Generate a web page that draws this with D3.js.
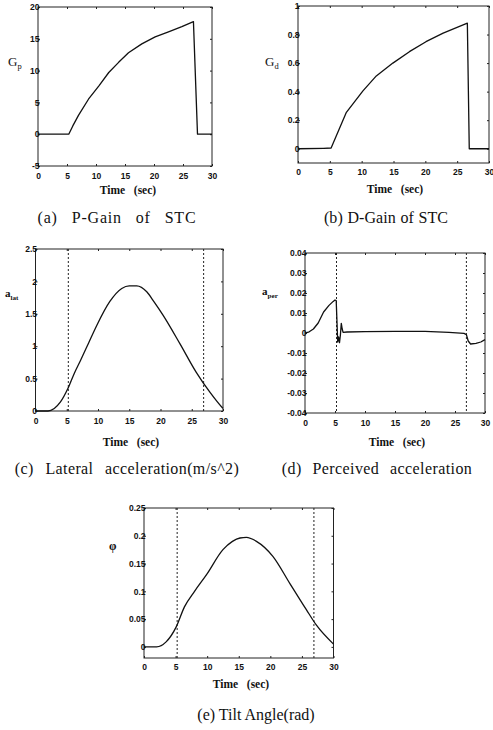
<!DOCTYPE html>
<html><head><meta charset="utf-8">
<script src="https://cdn.jsdelivr.net/npm/d3@7"></script>
<style>body{margin:0;background:#fff} svg{display:block}</style>
</head><body>
<svg id="chart" width="493" height="730"></svg>
<script>
// ---------- data ----------
const xTicks = [0, 5, 10, 15, 20, 25, 30];
const xTickLabels = ["0", "5", "10", "15", "20", "25", "30"];
const eventTimes = [5.25, 26.9];

const timeA = [0, 5.3, 6, 7, 8.7, 10.5, 12.2, 13.9, 15.6, 17.9, 20.2, 22.5, 24.8, 26.8, 27.5, 30];
const gainP = [0, 0, 1.3, 3.0, 5.5, 7.6, 9.7, 11.3, 12.8, 14.2, 15.3, 16.1, 16.9, 17.7, 0, 0];
const yTicksA = [-5, 0, 5, 10, 15, 20];
const yLabelsA = ["-5", "0", "5", "10", "15", "20"];

const timeB = [0, 4, 5.2, 7.6, 10.2, 12.3, 14.9, 17.5, 20.1, 22.8, 26.6, 26.9, 30];
const gainD = [0, 0.003, 0.005, 0.255, 0.405, 0.51, 0.60, 0.68, 0.75, 0.81, 0.88, 0, 0];
const yTicksB = [0, 0.2, 0.4, 0.6, 0.8, 1];
const yLabelsB = ["0", "0.2", "0.4", "0.6", "0.8", "1"];

const timeC = [0, 2, 3, 4, 5.2, 6.2, 7.2, 8.5, 9.8, 11.9, 13.8, 15, 16.2, 17.8, 19, 20.4, 23.1, 25.7, 27.9, 29.9, 30];
const latAcc = [0, 0, 0.04, 0.14, 0.35, 0.58, 0.78, 1.05, 1.32, 1.69, 1.89, 1.93, 1.93, 1.84, 1.68, 1.48, 1.04, 0.60, 0.29, 0.05, 0.04];
const yTicksC = [0, 0.5, 1, 1.5, 2, 2.5];
const yLabelsC = ["0", "0.5", "1", "1.5", "2", "2.5"];

const timeD = [0, 0.7, 1.4, 2.2, 3.1, 4.0, 4.7, 5.0, 5.2, 5.35, 5.45, 5.6, 5.75, 5.9, 6.05, 6.2, 6.35, 7, 10, 15, 20, 24, 26.5, 26.9, 27.2, 27.6, 28.5, 29.3, 30];
const perAcc = [0, 0.0006, 0.002, 0.005, 0.0105, 0.0138, 0.0158, 0.0165, 0.0162, 0.004, -0.0045, -0.002, -0.0048, -0.001, 0.0048, 0.002, 0.0003, 0.0005, 0.0007, 0.0008, 0.0008, 0.0003, -0.0002, -0.0008, -0.004, -0.0055, -0.0052, -0.0045, -0.0033];
const yTicksD = [-0.04, -0.03, -0.02, -0.01, 0, 0.01, 0.02, 0.03, 0.04];
const yLabelsD = ["-0.04", "-0.03", "-0.02", "-0.01", "0", "0.01", "0.02", "0.03", "0.04"];

const timeE = [0, 2, 3.5, 5.1, 6.4, 8, 9.9, 12.5, 14, 15.2, 16.2, 17.8, 20.4, 23.1, 25.7, 27.3, 30];
const tiltAng = [0, 0, 0.009, 0.036, 0.072, 0.10, 0.13, 0.175, 0.19, 0.196, 0.197, 0.19, 0.163, 0.114, 0.067, 0.039, 0.005];
const yTicksE = [0, 0.05, 0.1, 0.15, 0.2, 0.25];
const yLabelsE = ["0", "0.05", "0.1", "0.15", "0.2", "0.25"];

const captions = ["(a) P-Gain of STC", "(b) D-Gain of STC", "(c) Lateral acceleration(m/s^2)", "(d) Perceived acceleration", "(e) Tilt Angle(rad)"];

// ---------- drawing ----------
const svg = d3.select("#chart");
const tickFont = "'Liberation Sans', Arial, sans-serif";
const serif = "'Liberation Serif', 'Times New Roman', serif";

function panel(p) {
  const x = d3.scaleLinear().domain([0, 30]).range([p.x0, p.x1]);
  const y = d3.scaleLinear().domain(p.yDom).range([p.y1, p.y0]);
  const g = svg.append("g");

  g.append("rect").attr("x", p.x0).attr("y", p.y0)
    .attr("width", p.x1 - p.x0).attr("height", p.y1 - p.y0)
    .attr("fill", "none").attr("stroke", "#222").attr("stroke-width", 1);

  const styleAxis = (sel, showLabels) => {
    sel.select(".domain").remove();
    sel.selectAll(".tick line").attr("stroke", "#222");
    sel.selectAll(".tick text")
      .attr("font-family", tickFont).attr("font-size", 8.5).attr("font-weight", "bold")
      .attr("fill", "#111");
    if (!showLabels) sel.selectAll(".tick text").remove();
  };

  g.append("g").attr("transform", `translate(0,${p.y1})`)
    .call(d3.axisBottom(x).tickValues(xTicks).tickSize(-2).tickPadding(p.xPad)
      .tickFormat((d, i) => xTickLabels[i]))
    .call(s => styleAxis(s, true));
  g.append("g").attr("transform", `translate(0,${p.y0})`)
    .call(d3.axisTop(x).tickValues(xTicks).tickSize(-2))
    .call(s => styleAxis(s, false));
  g.append("g").attr("transform", `translate(${p.x0},0)`)
    .call(d3.axisLeft(y).tickValues(p.yTicks).tickSize(-2).tickPadding(-1.5)
      .tickFormat((d, i) => p.yLabels[i]))
    .call(s => styleAxis(s, true));
  g.append("g").attr("transform", `translate(${p.x1},0)`)
    .call(d3.axisRight(y).tickValues(p.yTicks).tickSize(-2))
    .call(s => styleAxis(s, false));

  if (p.events) {
    g.selectAll(".ev").data(eventTimes).join("line")
      .attr("x1", d => x(d)).attr("x2", d => x(d))
      .attr("y1", p.y0).attr("y2", p.y1)
      .attr("stroke", "#222").attr("stroke-width", 1)
      .attr("stroke-dasharray", "2,2");
  }

  const pts = p.t.map((t, i) => [t, p.v[i]]);
  g.append("path").datum(pts)
    .attr("d", d3.line().x(d => x(d[0])).y(d => y(d[1])).curve(p.curve))
    .attr("fill", "none").attr("stroke", "#111").attr("stroke-width", 1.3)
    .attr("stroke-linejoin", "round");

  g.append("text").attr("x", p.xlX).attr("y", p.xlY)
    .attr("text-anchor", "middle").attr("font-family", serif)
    .attr("font-size", 11.5).attr("font-weight", "bold").attr("fill", "#111")
    .attr("xml:space", "preserve")
    .text("Time   (sec)");

  const yl = g.append("text").attr("x", p.ylX).attr("y", p.ylY)
    .attr("font-family", serif).attr("font-size", p.ylSize).attr("fill", "#111")
    .attr("font-weight", p.ylBold ? "bold" : "normal");
  yl.append("tspan").text(p.ylMain);
  if (p.ylSub) yl.append("tspan").attr("font-size", p.ylSize * 0.65).attr("dy", 3).text(p.ylSub);

  // caption: fill the measured width, part by letter spacing, part by word gaps
  const cap = g.append("text").attr("x", p.capX).attr("y", p.capY)
    .attr("text-anchor", "middle").attr("font-family", serif)
    .attr("font-size", 16).attr("fill", "#111")
    .text(p.caption);
  const natural = cap.node().getComputedTextLength();
  const gaps = (p.caption.match(/ /g) || []).length;
  const chars = p.caption.length - 1;
  const extra = Math.max(0, p.capW - natural);
  const ls = Math.min(0.8, extra * 0.45 / chars);
  const ws = (extra - ls * chars) / gaps;
  cap.style("letter-spacing", ls + "px").style("word-spacing", ws + "px");
}

panel({x0: 38, x1: 212, y0: 7, y1: 166, yDom: [-5, 20], yTicks: yTicksA, yLabels: yLabelsA,
  t: timeA, v: gainP, events: false, xPad: 6.5, curve: d3.curveLinear,
  xlX: 128, xlY: 194, ylX: 8, ylY: 66, ylSize: 13, ylMain: "G", ylSub: "p",
  capX: 117, capY: 223, capW: 158, caption: captions[0]});

panel({x0: 298, x1: 489, y0: 6, y1: 163, yDom: [-0.1, 1], yTicks: yTicksB, yLabels: yLabelsB,
  t: timeB, v: gainD, events: false, xPad: 6, curve: d3.curveLinear,
  xlX: 395, xlY: 193, ylX: 265, ylY: 66, ylSize: 13, ylMain: "G", ylSub: "d",
  capX: 386, capY: 223, capW: 124, caption: captions[1]});

panel({x0: 35.5, x1: 223, y0: 249, y1: 411, yDom: [0, 2.5], yTicks: yTicksC, yLabels: yLabelsC,
  t: timeC, v: latAcc, events: true, xPad: 6.5, curve: d3.curveMonotoneX,
  xlX: 131, xlY: 446, ylX: 5, ylY: 297, ylSize: 11, ylBold: true, ylMain: "a", ylSub: "lat",
  capX: 127, capY: 474, capW: 224, caption: captions[2]});

panel({x0: 305, x1: 485, y0: 253, y1: 413, yDom: [-0.04, 0.04], yTicks: yTicksD, yLabels: yLabelsD,
  t: timeD, v: perAcc, events: true, xPad: 6.5, curve: d3.curveLinear,
  xlX: 397, xlY: 446, ylX: 262, ylY: 295, ylSize: 11, ylBold: true, ylMain: "a", ylSub: "per",
  capX: 377, capY: 474, capW: 190, caption: captions[3]});

panel({x0: 144, x1: 333.5, y0: 508, y1: 658, yDom: [-0.02, 0.25], yTicks: yTicksE, yLabels: yLabelsE,
  t: timeE, v: tiltAng, events: true, xPad: 5.5, curve: d3.curveMonotoneX,
  xlX: 241, xlY: 688, ylX: 109, ylY: 550, ylSize: 12, ylBold: true, ylMain: "φ", ylSub: null,
  capX: 256, capY: 720, capW: 108, caption: captions[4]});
</script>
</body></html>
